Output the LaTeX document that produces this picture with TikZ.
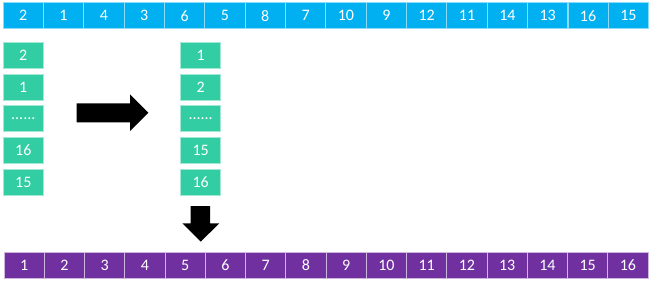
\documentclass[tikz,border=0pt]{standalone}
\usepackage{fontspec}
\setmainfont{Carlito}
\usetikzlibrary{positioning}
\definecolor{topblue}{RGB}{0,176,240}
\definecolor{boxgreen}{RGB}{50,205,162}
\definecolor{rowpurple}{RGB}{112,48,160}
\newcommand{\gapdots}{......}
\tikzset{
    cell/.style={minimum width=40.3pt, minimum height=26pt, inner sep=0pt, outer sep=0pt,
        text=white, font=\fontsize{16}{18}\selectfont, line width=0.8pt},
    topcell/.style={cell, fill=topblue, draw=topblue!45!white},
    sortbox/.style={cell, minimum width=40pt, fill=boxgreen, draw=boxgreen!45!white},
    botcell/.style={cell, minimum width=40.2pt, fill=rowpurple, draw=rowpurple!35!white},
    blockarrow/.style={fill=black}
}

\begin{document}
\begin{tikzpicture}[x=1pt, y=-1pt]
    \useasboundingbox (0,0) rectangle (660,283);

    % input order
    \foreach \v [count=\i] in {2,1,4,3,6,5,8,7,10,9,12,11,14,13,16,15}
        \node[topcell] (t\i) at ({3+40.35*(\i-0.5)},15.7) {\v};

    % buffer before and after sorting
    \foreach \v [count=\i] in {2,1,\gapdots,16,15}
        \node[sortbox] (a\i) at (23.3,{55.5+31.65*(\i-1)}) {\v};
    \foreach \v [count=\i] in {1,2,\gapdots,15,16}
        \node[sortbox] (b\i) at (200.7,{55.5+31.65*(\i-1)}) {\v};

    % arrows
    \fill[blockarrow] (76.7,103.3) -- (130,103.3) -- (130,94.3) -- (148.3,112.7)
        -- (130,131) -- (130,122.3) -- (76.7,122.3) -- cycle;
    \fill[blockarrow] (190.7,206) -- (210,206) -- (210,223.3) -- (219.3,223.3)
        -- (200.7,241.7) -- (182.3,223.3) -- (190.7,223.3) -- cycle;

    % output order
    \foreach \i in {1,...,16}
        \node[botcell] (o\i) at ({4+40.25*(\i-0.5)},265) {\i};
\end{tikzpicture}
\end{document}
